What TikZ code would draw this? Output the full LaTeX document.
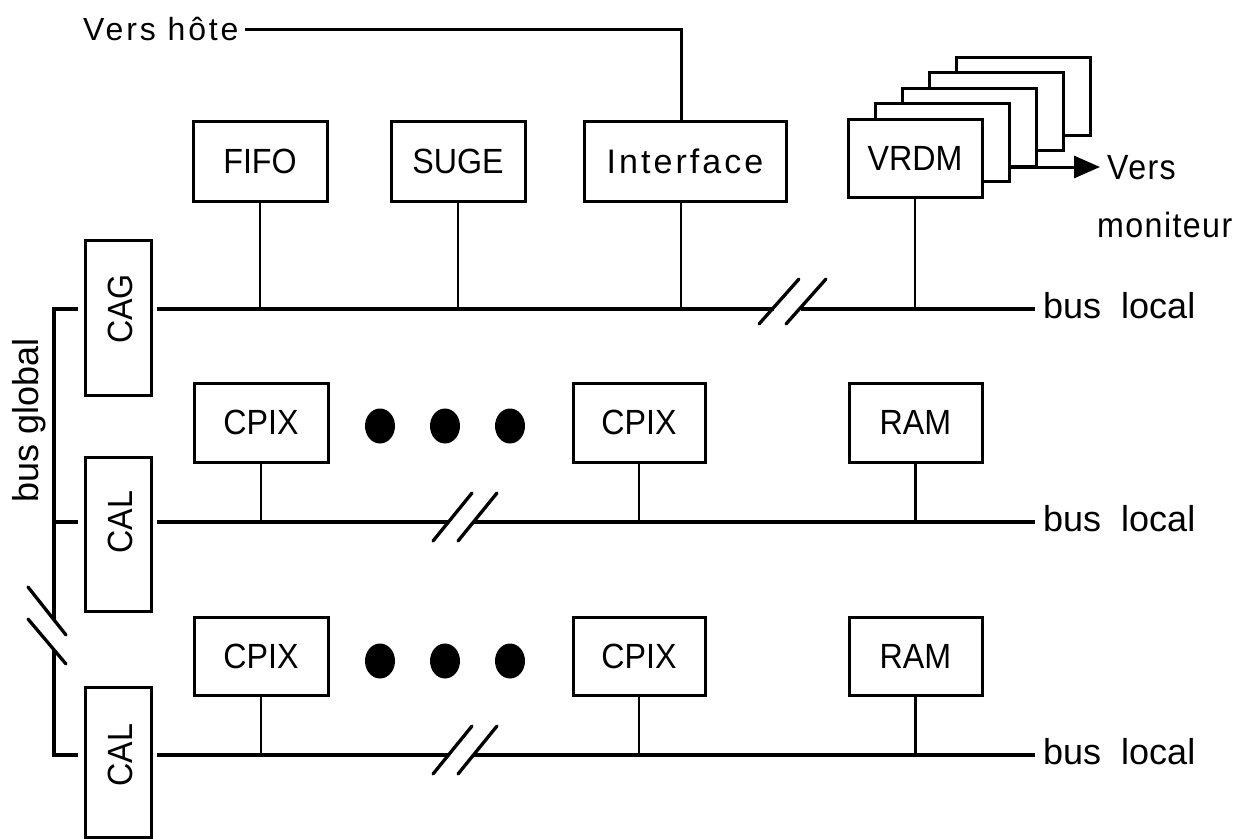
\documentclass[tikz,border=0pt]{standalone}
\usepackage{fontspec}
\setmainfont{Liberation Sans}
\newfontfamily\tightfont[FakeStretch=0.92]{Liberation Sans}
\newfontfamily\spacedfont[LetterSpace=9]{Liberation Sans}
\newfontfamily\notefont[FakeStretch=0.92,LetterSpace=4]{Liberation Sans}
\usetikzlibrary{arrows.meta}
\tikzset{
  unit/.style={draw, line width=3pt, fill=white, inner sep=0pt,
    minimum width=134pt, minimum height=79pt,
    font=\tightfont\fontsize{35}{40}\selectfont},
  ctrl/.style={draw, line width=3pt, inner sep=0pt, minimum width=66pt},
  vlabel/.style={rotate=90, inner sep=0pt, font=\tightfont\fontsize{35}{40}\selectfont},
  bus/.style={line width=4pt},
  stem/.style={line width=2.6pt},
  gbus/.style={line width=3.4pt},
  brk/.style={line width=3.3pt, line cap=round},
  buslbl/.style={anchor=base west, inner sep=0pt, font=\fontsize{36}{40}\selectfont},
  wide/.style={inner sep=0pt, font=\spacedfont\fontsize{32}{36}\selectfont},
  note/.style={anchor=base west, inner sep=0pt, font=\notefont\fontsize{35}{40}\selectfont},
}
\begin{document}
\begin{tikzpicture}[x=1pt,y=-1pt]
\useasboundingbox[fill=white] (0,0) rectangle (1241,838);

% ---- bus ends ----
\coordinate (b1w) at (157,309); \coordinate (b1e) at (1035,309);
\coordinate (b2w) at (157,522); \coordinate (b2e) at (1035,522);
\coordinate (b3w) at (157,755); \coordinate (b3e) at (1035,755);

% ---- controllers on the left ----
\node[ctrl, minimum height=155pt] (cag)  at (118,317.5) {};
\node[ctrl, minimum height=154pt] (cal1) at (118,534) {};
\node[ctrl, minimum height=150pt] (cal2) at (118,762) {};
\node[vlabel] (cagt)  at (120,309) {CAG};
\node[vlabel] (cal1t) at (120,522) {CAL};
\node[vlabel] (cal2t) at (120,755) {CAL};

% ---- global bus ----
\coordinate (g1) at (54,309); \coordinate (g2) at (54,522); \coordinate (g3) at (54,755);
\coordinate (ga) at (54,620); \coordinate (gb) at (54,650);
\draw[gbus] (78,309) -- (g1) -- (ga);
\draw[gbus] (gb) -- (g3) -- (78,755);
\draw[gbus] (g2) -- (78,522);
\draw[brk] (28,587) -- (66,635);
\draw[brk] (28,619) -- (66,664);
\node[rotate=90, anchor=base, inner sep=0pt, font=\fontsize{36}{40}\selectfont] (bg) at (38,420) {bus global};

% ---- row 1 : local bus of the global controller ----
\node[wide, anchor=base west] (vh) at (83,40) {Vers hôte};
\node[unit] (fifo) at (260,161) [minimum height=80pt] {FIFO};
\node[unit] (suge) at (458,161) [minimum height=80pt] {SUGE};
\node[unit, minimum width=202pt, minimum height=80pt, font=\spacedfont\fontsize{34}{38}\selectfont] (iface) at (685,161) {Interface};
\coordinate (ifs) at (681,0);
\foreach \k in {4,3,2,1}
  \node[unit, minimum width=134pt, minimum height=78pt] (v\k) at ({915+27*\k},{158-15.5*\k}) {};
\node[unit, minimum width=134pt, minimum height=78pt] (v0) at (915,158) {VRDM};

\draw[line width=3pt] ([xshift=6pt]vh.east |- 0,29) -| (iface.north -| ifs);

\coordinate (m1) at (774,309); \coordinate (m2) at (801,309);
\draw[bus] (b1w) -- (m1);
\draw[bus] (m2) -- (b1e);
\draw[brk] (759,324) -- (799,279);
\draw[brk] (786,324) -- (826,279);
\draw[stem] (fifo.south) -- (fifo |- b1w);
\draw[stem] (suge.south) -- (suge |- b1w);
\draw[stem] (iface.south -| ifs) -- (b1w -| ifs);
\draw[stem] (v0.south) -- (v0 |- b1w);

\coordinate (vm) at (1100,167);
\draw[line width=3pt, -{Triangle[length=26pt,width=22pt]}] (vm -| v1.east) -- (vm);
\node[note] (vers) at (1107,179) {Vers};
\node[note] (mon) at (1097,237) {moniteur};
\node[buslbl] (bl1) at (1043,318) {bus\ \ local};

% ---- row 2 ----
\node[unit] (p1) at (261,422.5) {CPIX};
\node[unit, minimum width=132pt] (p2) at (639,422.5) {CPIX};
\node[unit, minimum width=133pt] (r1) at (915.5,422.5) {RAM};
\foreach \x in {380,445,510}
  \fill (\x,426) ellipse [x radius=15pt, y radius=17.5pt];
\coordinate (n1) at (448,522); \coordinate (n2) at (473,522);
\draw[bus] (b2w) -- (n1);
\draw[bus] (n2) -- (b2e);
\draw[brk] (433,541) -- (472,493);
\draw[brk] (458,541) -- (497,493);
\draw[stem] (p1.south) -- (p1 |- b2w);
\draw[stem] (p2.south) -- (p2 |- b2w);
\draw[stem] (r1.south) -- (r1 |- b2w);
\node[buslbl] (bl2) at (1043,531) {bus\ \ local};

% ---- row 3 ----
\node[unit, minimum height=78pt] (q1) at (261,656) {CPIX};
\node[unit, minimum width=132pt, minimum height=78pt] (q2) at (639,656) {CPIX};
\node[unit, minimum width=133pt, minimum height=78pt] (r2) at (915.5,656) {RAM};
\foreach \x in {380,445,510}
  \fill (\x,661) ellipse [x radius=15pt, y radius=17.5pt];
\coordinate (o1) at (448,755); \coordinate (o2) at (473,755);
\draw[bus] (b3w) -- (o1);
\draw[bus] (o2) -- (b3e);
\draw[brk] (433,774) -- (472,726);
\draw[brk] (458,774) -- (497,726);
\draw[stem] (q1.south) -- (q1 |- b3w);
\draw[stem] (q2.south) -- (q2 |- b3w);
\draw[stem] (r2.south) -- (r2 |- b3w);
\node[buslbl] (bl3) at (1043,764) {bus\ \ local};
\end{tikzpicture}
\end{document}
